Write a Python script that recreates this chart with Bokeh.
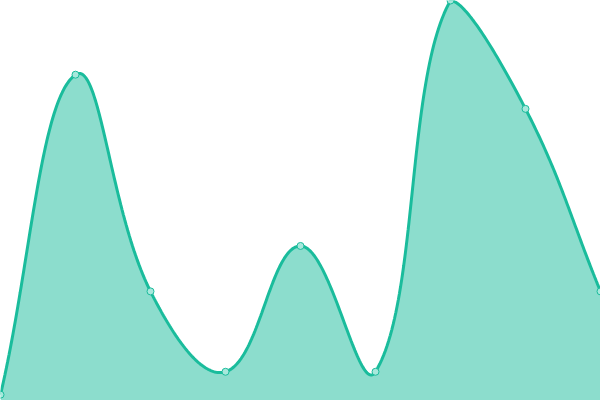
import numpy as np
from bokeh.plotting import figure
from bokeh.embed import file_html
from bokeh.resources import INLINE

# Data
categories = ["1", "2", "3", "4", "5", "6", "7", "8", "9"]
values = [1.6, 89.6, 30.0, 7.9, 42.5, 7.9, 110.0, 80.2, 30.0]
y_max = 110.0

LINE = "#1abc9c"
W, H = 600, 400
TENSION = 0.4

xs = list(range(len(categories)))
x_max = len(categories) - 1

p = figure(width=W, height=H, x_range=(0, x_max), y_range=(0, y_max),
           output_backend="svg", toolbar_location=None, min_border=0)
p.axis.visible = False
p.grid.visible = False
p.outline_line_color = None
p.background_fill_color = "white"
p.border_fill_color = "white"

# spline (tension-based) computed in screen space
sx, sy = W / x_max, H / y_max
pts = np.array([[x * sx, v * sy] for x, v in zip(xs, values)])
n = len(pts)
cps = []
for i in range(n):
    prev = pts[i - 1] if i > 0 else pts[i]
    cur = pts[i]
    nxt = pts[i + 1] if i < n - 1 else pts[i]
    d01 = np.hypot(*(cur - prev))
    d12 = np.hypot(*(nxt - cur))
    tot = d01 + d12
    s01 = d01 / tot if tot else 0
    s12 = d12 / tot if tot else 0
    cp_prev = cur - TENSION * s01 * (nxt - prev)
    cp_next = cur + TENSION * s12 * (nxt - prev)
    for c in (cp_prev, cp_next):
        c[0] = min(max(c[0], 0), W)
        c[1] = min(max(c[1], 0), H)
    cps.append((cp_prev, cp_next))

cx, cy = [], []
t = np.linspace(0, 1, 60)
for i in range(n - 1):
    p0 = pts[i]; p1 = cps[i][1]; p2 = cps[i + 1][0]; p3 = pts[i + 1]
    bx = ((1 - t) ** 3) * p0[0] + 3 * ((1 - t) ** 2) * t * p1[0] + 3 * (1 - t) * t ** 2 * p2[0] + t ** 3 * p3[0]
    by = ((1 - t) ** 3) * p0[1] + 3 * ((1 - t) ** 2) * t * p1[1] + 3 * (1 - t) * t ** 2 * p2[1] + t ** 3 * p3[1]
    if i > 0:
        bx, by = bx[1:], by[1:]
    cx.extend(bx / sx)
    cy.extend(by / sy)

p.varea(x=cx, y1=0, y2=cy, fill_color=LINE, fill_alpha=0.5)
p.line(cx, cy, line_color=LINE, line_width=3)
p.scatter(xs, values, size=7, fill_color="#a8e8dc", fill_alpha=1.0,
          line_color=LINE, line_width=1)

open("out.html", "w").write(file_html(p, INLINE))
